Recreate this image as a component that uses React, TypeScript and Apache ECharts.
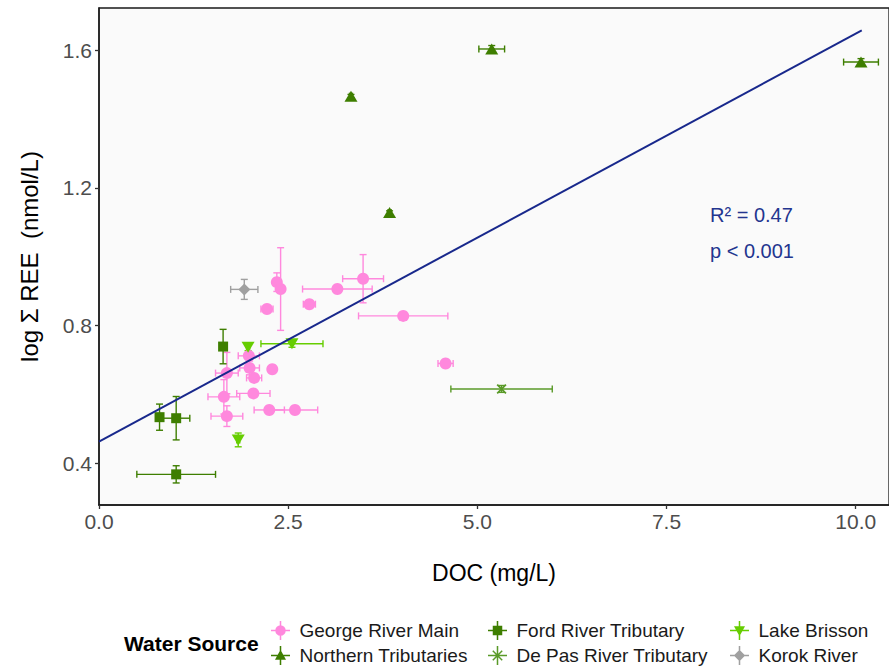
import React, { useEffect, useRef } from 'react';
import * as echarts from 'echarts';

// [DOC (mg/L), log ΣREE (nmol/L), DOC error, REE error]
const georgeRiverMain: number[][] = [
  [2.35, 0.926, 0.03, 0.027],
  [2.40, 0.906, 0.05, 0.12],
  [2.22, 0.848, 0.08, 0.01],
  [2.78, 0.862, 0.08, 0.01],
  [3.15, 0.906, 0.46, 0.01],
  [3.49, 0.936, 0.27, 0.07],
  [4.02, 0.828, 0.59, 0.01],
  [4.58, 0.690, 0.10, 0.01],
  [1.98, 0.712, 0.14, 0.01],
  [1.99, 0.677, 0.13, 0.02],
  [2.05, 0.648, 0.10, 0.01],
  [2.29, 0.673, 0.03, 0.01],
  [1.69, 0.662, 0.15, 0.06],
  [1.65, 0.593, 0.21, 0.05],
  [2.04, 0.603, 0.22, 0.01],
  [2.25, 0.555, 0.20, 0.01],
  [2.59, 0.555, 0.30, 0.01],
  [1.69, 0.537, 0.21, 0.03],
];
const northernTributaries: number[][] = [
  [3.33, 1.466, 0.02, 0.005],
  [5.19, 1.603, 0.17, 0.01],
  [3.84, 1.128, 0.02, 0.005],
  [10.07, 1.565, 0.23, 0.01],
];
const fordRiverTributary: number[][] = [
  [0.80, 0.534, 0.02, 0.038],
  [1.02, 0.531, 0.18, 0.063],
  [1.02, 0.368, 0.52, 0.025],
  [1.64, 0.739, 0.02, 0.05],
];
const dePasRiverTributary: number[][] = [[5.32, 0.616, 0.67, 0.01]];
const lakeBrisson: number[][] = [
  [1.97, 0.737, 0.02, 0.01],
  [2.55, 0.747, 0.41, 0.01],
  [1.84, 0.468, 0.02, 0.02],
];
const korokRiver: number[][] = [[1.92, 0.905, 0.18, 0.029]];

const regressionLine: number[][] = [[0, 0.463], [10.08, 1.657]];
const xTicks = [0, 2.5, 5, 7.5, 10];
const yTicks = [0.4, 0.8, 1.2, 1.6];

const FONT = 'Liberation Sans, Arial, Helvetica, sans-serif';

const cross = 'M0,9.2 H20 V10.8 H0 Z M9.2,0 H10.8 V20 H9.2 Z ';
const icons: Record<string, string> = {
  'George River Main': 'path://' + cross + 'M4.5,10 A5.5,5.5 0 1 1 15.5,10 A5.5,5.5 0 1 1 4.5,10 Z',
  'Northern Tributaries': 'path://' + cross + 'M10,4 L15.8,14.5 L4.2,14.5 Z',
  'Ford River Tributary': 'path://' + cross + 'M5,5 H15 V15 H5 Z',
  'De Pas River Tributary':
    'path://' + cross + 'M5.6,4.5 L15.5,14.4 L14.4,15.5 L4.5,5.6 Z M14.4,4.5 L15.5,5.6 L5.6,15.5 L4.5,14.4 Z',
  'Lake Brisson': 'path://' + cross + 'M4.2,5.5 L15.8,5.5 L10,16 Z',
  'Korok River': 'path://' + cross + 'M10,4 L16,10 L10,16 L4,10 Z',
};

const groups = [
  { name: 'George River Main', data: georgeRiverMain, color: '#FF88DD', symbol: 'circle', size: 12, rotate: 0 },
  { name: 'Northern Tributaries', data: northernTributaries, color: '#3E7E00', symbol: 'triangle', size: [13, 11], rotate: 0 },
  { name: 'Ford River Tributary', data: fordRiverTributary, color: '#3E7E00', symbol: 'rect', size: 10, rotate: 0 },
  {
    name: 'De Pas River Tributary',
    data: dePasRiverTributary,
    color: '#5A9A28',
    symbol: 'path://M0,1.2 L1.2,0 L10,8.8 L8.8,10 Z M8.8,0 L10,1.2 L1.2,10 L0,8.8 Z',
    size: 10,
    rotate: 0,
  },
  { name: 'Lake Brisson', data: lakeBrisson, color: '#66CD00', symbol: 'triangle', size: [13, 11], rotate: 180 },
  { name: 'Korok River', data: korokRiver, color: '#A0A0A0', symbol: 'diamond', size: 12, rotate: 0 },
];

function errorBars(color: string) {
  return (params: any, api: any) => {
    const x = api.value(0);
    const y = api.value(1);
    const xe = api.value(2);
    const ye = api.value(3);
    const l = api.coord([x - xe, y]);
    const r = api.coord([x + xe, y]);
    const t = api.coord([x, y + ye]);
    const b = api.coord([x, y - ye]);
    const cap = 3.5;
    const style = { stroke: color, lineWidth: 1.4 };
    const children: any[] = [];
    const line = (x1: number, y1: number, x2: number, y2: number) =>
      children.push({ type: 'line', shape: { x1, y1, x2, y2 }, style });
    line(l[0], l[1], r[0], r[1]);
    line(l[0], l[1] - cap, l[0], l[1] + cap);
    line(r[0], r[1] - cap, r[0], r[1] + cap);
    line(t[0], t[1], b[0], b[1]);
    line(t[0] - cap, t[1], t[0] + cap, t[1]);
    line(b[0] - cap, b[1], b[0] + cap, b[1]);
    return { type: 'group', children };
  };
}

const legendColumns = [
  { left: 271, names: ['George River Main', 'Northern Tributaries'] },
  { left: 488, names: ['Ford River Tributary', 'De Pas River Tributary'] },
  { left: 730, names: ['Lake Brisson', 'Korok River'] },
];

export default function App() {
  const ref = useRef<HTMLDivElement>(null);
  useEffect(() => {
    const chart = echarts.init(ref.current!, null, { renderer: 'svg' });
    const series: any[] = [];
    groups.forEach((g) => {
      series.push({
        name: g.name + ' error',
        type: 'custom',
        renderItem: errorBars(g.color),
        data: g.data,
        z: 2,
        silent: true,
      });
    });
    groups.forEach((g) => {
      series.push({
        name: g.name,
        type: 'scatter',
        data: g.data.map((d) => [d[0], d[1]]),
        symbol: g.symbol,
        symbolSize: g.size,
        symbolRotate: g.rotate,
        itemStyle: { color: g.color, opacity: 1 },
        z: 3,
      });
    });
    series.push({
      name: 'regression',
      type: 'line',
      data: regressionLine,
      showSymbol: false,
      symbol: 'none',
      lineStyle: { color: '#18288C', width: 2 },
      z: 4,
      silent: true,
    });

    chart.setOption({
      animation: false,
      backgroundColor: '#FFFFFF',
      textStyle: { fontFamily: FONT },
      grid: {
        left: 99,
        right: -3,
        top: 8,
        bottom: 164,
        show: true,
        backgroundColor: '#FAFAFA',
        borderColor: '#1A1A1A',
        borderWidth: 1.3,
      },
      xAxis: {
        type: 'value',
        min: 0,
        max: 10.44,
        name: 'DOC (mg/L)',
        nameLocation: 'middle',
        nameGap: 56,
        nameTextStyle: { fontSize: 23, color: '#000000', fontFamily: FONT },
        axisLine: { show: true, lineStyle: { color: '#1A1A1A', width: 1.5 } },
        axisTick: { show: true, length: 4, lineStyle: { color: '#333333', width: 1.3 }, customValues: xTicks },
        axisLabel: {
          customValues: xTicks,
          fontSize: 21,
          color: '#4D4D4D',
          margin: 6,
          fontFamily: FONT,
          formatter: (v: number) => v.toFixed(1),
        },
        splitLine: { show: false },
      },
      yAxis: {
        type: 'value',
        min: 0.279,
        max: 1.722,
        name: 'log Σ REE  (nmol/L)',
        nameLocation: 'middle',
        nameGap: 58,
        nameTextStyle: { fontSize: 24, color: '#000000', fontFamily: FONT },
        axisLine: { show: true, lineStyle: { color: '#1A1A1A', width: 1.5 } },
        axisTick: { show: true, length: 4, lineStyle: { color: '#333333', width: 1.3 }, customValues: yTicks },
        axisLabel: {
          customValues: yTicks,
          fontSize: 21,
          color: '#4D4D4D',
          margin: 7,
          fontFamily: FONT,
          formatter: (v: number) => v.toFixed(1),
        },
        splitLine: { show: false },
      },
      legend: legendColumns.map((c) => ({
        orient: 'vertical',
        left: c.left,
        top: 621,
        padding: 0,
        itemWidth: 28,
        itemHeight: 19,
        itemGap: 6,
        selectedMode: false,
        textStyle: { fontSize: 19, color: '#1A1A1A', fontFamily: FONT, lineHeight: 19 },
        data: c.names.map((n) => ({ name: n, icon: icons[n] })),
      })),
      graphic: [
        {
          type: 'text',
          x: 124,
          y: 643,
          style: {
            text: 'Water Source',
            fontSize: 21,
            fontWeight: 'bold',
            fill: '#000000',
            fontFamily: FONT,
            verticalAlign: 'middle',
            align: 'left',
          },
        },
        {
          type: 'text',
          x: 710,
          y: 215,
          z: 10,
          style: {
            text: 'R² = 0.47',
            fontSize: 20,
            fill: '#23358F',
            fontFamily: FONT,
            verticalAlign: 'middle',
            align: 'left',
          },
        },
        {
          type: 'text',
          x: 710,
          y: 251,
          z: 10,
          style: {
            text: 'p < 0.001',
            fontSize: 20,
            fill: '#23358F',
            fontFamily: FONT,
            verticalAlign: 'middle',
            align: 'left',
          },
        },
      ],
      series,
    });
    return () => chart.dispose();
  }, []);
  return <div ref={ref} style={{ position: 'absolute', left: 0, top: 0, width: 889, height: 669 }} />;
}
